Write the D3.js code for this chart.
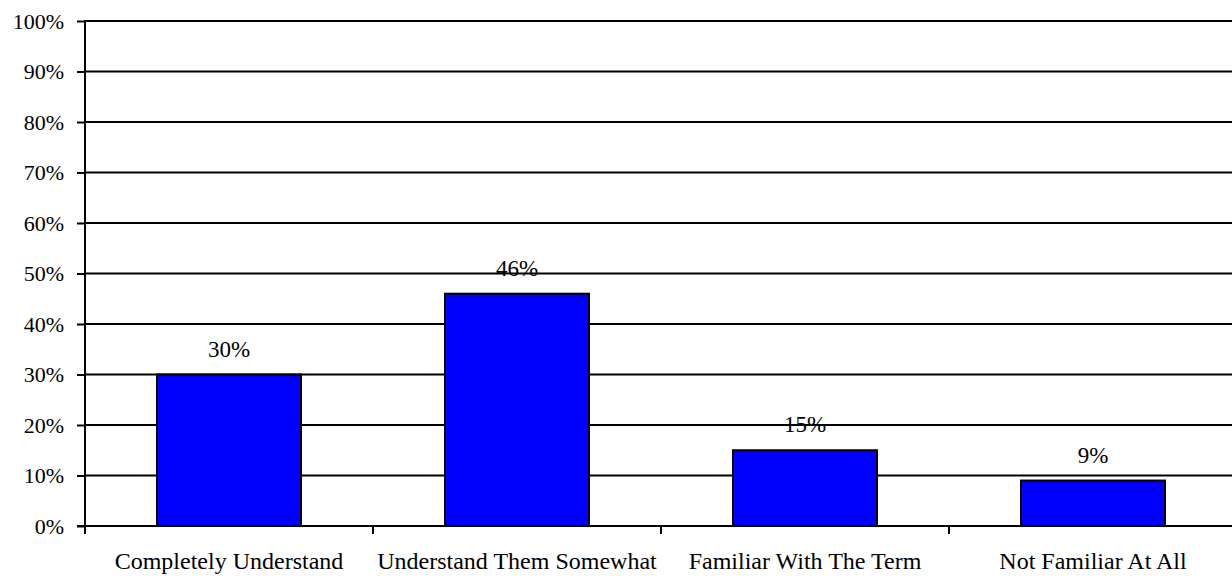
<!DOCTYPE html>
<html>
<head>
<meta charset="utf-8">
<script src="https://cdn.jsdelivr.net/npm/d3@7"></script>
<style>
  html, body { margin: 0; padding: 0; background: #fff; }
  svg text { fill: #000; }
</style>
</head>
<body>
<div id="chart"></div>
<script>
var categories = ["Completely Understand", "Understand Them Somewhat", "Familiar With The Term", "Not Familiar At All"];
var values = [30, 46, 15, 9];
var yTicks = [0, 10, 20, 30, 40, 50, 60, 70, 80, 90, 100];

var width = 1232, height = 576
  , margin = {top: 21, right: -5, bottom: 50, left: 85}
  , yFontSize = 22
  , labelFontSize = 23
  , xFontSize = 24
  , fontFamily = "'Liberation Serif', 'Times New Roman', Times, 'DejaVu Serif', serif"
  ;

var svg = d3.select('#chart').append('svg')
    .attr('width', width)
    .attr('height', height)
    .attr('font-family', fontFamily);

var xScale = d3.scaleBand()
    .domain(categories)
    .range([margin.left, width - margin.right])
    .paddingInner(0)
    .paddingOuter(0);

var yScale = d3.scaleLinear()
    .domain([0, 100])
    .range([height - margin.bottom, margin.top]);

var barW = xScale.bandwidth() * 0.5;

// value labels (drawn first, gridlines sit over them like the original)
svg.append('g').selectAll('text')
    .data(values)
    .enter()
    .append('text')
      .attr('x', function(d, i) { return xScale(categories[i]) + xScale.bandwidth() / 2; })
      .attr('y', function(d) { return yScale(d) - 18; })
      .attr('text-anchor', 'middle')
      .style('font-family', fontFamily)
      .style('font-size', labelFontSize + 'px')
      .text(function(d) { return d + '%'; });

// gridlines
svg.append('g').selectAll('line')
    .data(yTicks.slice(1))
    .enter()
    .append('line')
      .attr('x1', margin.left)
      .attr('x2', width)
      .attr('y1', function(d) { return yScale(d); })
      .attr('y2', function(d) { return yScale(d); })
      .style('stroke', '#000')
      .style('stroke-width', 2);

// bars
svg.append('g').selectAll('rect')
    .data(values)
    .enter()
    .append('rect')
      .attr('x', function(d, i) { return xScale(categories[i]) + (xScale.bandwidth() - barW) / 2; })
      .attr('y', function(d) { return yScale(d); })
      .attr('width', barW)
      .attr('height', function(d) { return yScale(0) - yScale(d); })
      .style('fill', '#0000ff')
      .style('stroke', '#000')
      .style('stroke-width', 2);

// y axis
var yAxis = d3.axisLeft(yScale)
    .tickValues(yTicks)
    .tickSize(8)
    .tickPadding(13)
    .tickFormat(function(d) { return d + '%'; });

var yg = svg.append('g')
    .attr('transform', 'translate(' + margin.left + ',0)')
    .call(yAxis)
    .attr('font-family', fontFamily)
    .attr('font-size', yFontSize);
yg.select('.domain').remove();
yg.selectAll('line').style('stroke', '#000').style('stroke-width', 2);
yg.selectAll('text').style('font-size', yFontSize + 'px').style('font-family', fontFamily);

svg.append('line')
    .attr('x1', margin.left).attr('x2', margin.left)
    .attr('y1', yScale(100) - 1).attr('y2', yScale(0) + 8)
    .style('stroke', '#000').style('stroke-width', 2);

// x axis
svg.append('line')
    .attr('x1', margin.left - 8).attr('x2', width)
    .attr('y1', yScale(0)).attr('y2', yScale(0))
    .style('stroke', '#000').style('stroke-width', 2);

var boundaries = categories.map(function(c) { return xScale(c); });
svg.append('g').selectAll('line')
    .data(boundaries)
    .enter()
    .append('line')
      .attr('x1', function(d) { return d; })
      .attr('x2', function(d) { return d; })
      .attr('y1', yScale(0))
      .attr('y2', yScale(0) + 8)
      .style('stroke', '#000')
      .style('stroke-width', 2);

svg.append('g').selectAll('text')
    .data(categories)
    .enter()
    .append('text')
      .attr('x', function(d) { return xScale(d) + xScale.bandwidth() / 2; })
      .attr('y', yScale(0) + 43)
      .attr('text-anchor', 'middle')
      .style('font-family', fontFamily)
      .style('font-size', xFontSize + 'px')
      .text(function(d) { return d; });
</script>
</body>
</html>
